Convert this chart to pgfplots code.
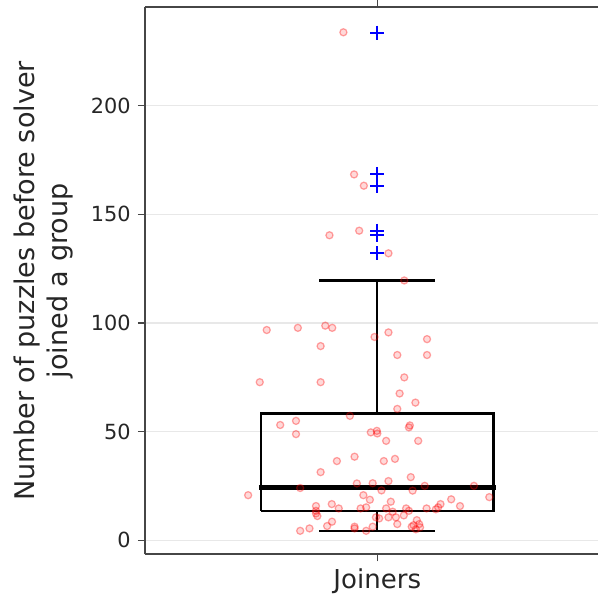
\documentclass[border=0pt]{standalone}
\usepackage{fontspec}
\setmainfont{DejaVu Sans}
\usepackage{pgfplots}
\pgfplotsset{compat=1.18}
\definecolor{tickgray}{RGB}{38,38,38}
\definecolor{gridgray}{RGB}{232,232,232}
\definecolor{spinegray}{RGB}{70,70,70}

\begin{document}
\begin{tikzpicture}
\useasboundingbox (-69.6pt,-22.9pt) rectangle (217.44pt,266.06pt);
\begin{axis}[
  at={(0,0)}, anchor=south west,
  scale only axis, width=217.44pt, height=262.56pt,
  xmin=0.5, xmax=1.475, ymin=-6.4, ymax=245.3,
  axis x line*=box, axis y line*=left,
  axis line style={-, draw=spinegray, line width=0.9pt},
  xtick={1}, xticklabels={Joiners},
  ytick={0,50,100,150,200},
  tick align=outside, major tick length=3.4pt,
  tick style={draw=spinegray, line width=0.7pt},
  ymajorgrids, grid style={draw=gridgray, line width=0.7pt},
  /pgf/number format/assume math mode=true,
  yticklabel style={font=\fontsize{10}{12}\selectfont, text=tickgray},
  xticklabel style={font=\fontsize{12.5}{15}\selectfont, text=tickgray},
  ylabel={Number of puzzles before solver\\joined a group},
  ylabel style={align=center, font=\fontsize{13}{15.6}\selectfont, text=tickgray,
    at={(axis description cs:-0.1426,0.5)}, anchor=south},
  clip=false,
]
% box and whiskers
\addplot[black, line width=1pt] coordinates {(0.75,13.6) (1.25,13.6) (1.25,58.4) (0.75,58.4) (0.75,13.6)};
\addplot[black, line width=0.9pt] coordinates {(1,58.4) (1,119.6)};
\addplot[black, line width=0.9pt] coordinates {(1,13.6) (1,4.3)};
\addplot[black, line width=1pt] coordinates {(0.875,119.6) (1.125,119.6)};
\addplot[black, line width=1pt] coordinates {(0.875,4.3) (1.125,4.3)};
\addplot[black, line width=2.4pt] coordinates {(0.745,24.2) (1.255,24.2)};
\addplot[only marks, mark=+, mark size=3.4pt, blue, line width=0.8pt]
  coordinates {(1,233.6) (1,168.6) (1,163.0) (1,142.5) (1,140.5) (1,132.1)};
\addplot[only marks, mark=*, mark size=1.7pt,
  mark options={fill=red, fill opacity=0.15, draw=red, draw opacity=0.35, line width=0.6pt}]
  coordinates {
  (0.927,233.8) (0.950,168.4) (0.971,163.2) (0.897,140.4) (0.961,142.5) (1.024,132.1)
  (1.058,119.6) (0.762,96.8) (0.829,97.8) (0.888,98.8) (0.903,97.8) (0.994,93.6)
  (1.024,95.7) (1.107,92.6) (0.878,89.4) (1.043,85.3) (1.107,85.3) (0.747,72.8)
  (0.878,72.8) (1.058,75.0) (1.048,67.6) (1.082,63.4) (1.043,60.5)
  (0.941,57.3) (0.791,53.1) (0.825,55.0) (0.825,48.9) (0.986,49.7) (0.999,50.4)
  (1.000,49.2) (1.070,52.9) (1.068,52.0) (1.019,45.8) (1.088,45.8) (0.913,36.5)
  (0.951,38.5) (1.014,36.5) (1.038,37.5) (0.878,31.4) (1.072,29.1) (0.956,26.2)
  (0.990,26.3) (1.024,27.3) (1.102,25.1) (1.208,25.1)
  (0.834,24.1) (1.009,23.0) (1.076,22.9) (0.722,20.8) (0.970,20.8) (1.241,19.9)
  (0.984,18.7) (1.159,18.9) (1.029,17.8) (0.902,16.7) (1.136,16.7) (0.868,15.8)
  (0.917,14.7) (0.964,14.7) (0.976,15.2) (1.019,14.7) (1.062,14.7) (1.106,14.7)
  (1.126,14.3) (1.131,15.2) (1.178,15.8) (0.868,13.6) (1.068,13.6) (1.033,13.2)
  (0.871,11.2) (0.868,12.4) (0.997,10.6) (1.024,10.6) (1.040,10.6) (1.057,11.5)
  (1.004,10.1) (0.9025,8.6) (1.085,9.3) (1.043,7.5) (0.892,6.6) (0.951,6.3)
  (0.951,5.5) (0.990,6.3) (1.078,7.0) (1.090,7.5) (1.074,6.3) (1.092,6.0)
  (1.083,5.1) (0.854,5.5) (0.834,4.4) (0.976,4.4)
  };
\end{axis}
\end{tikzpicture}
\end{document}
